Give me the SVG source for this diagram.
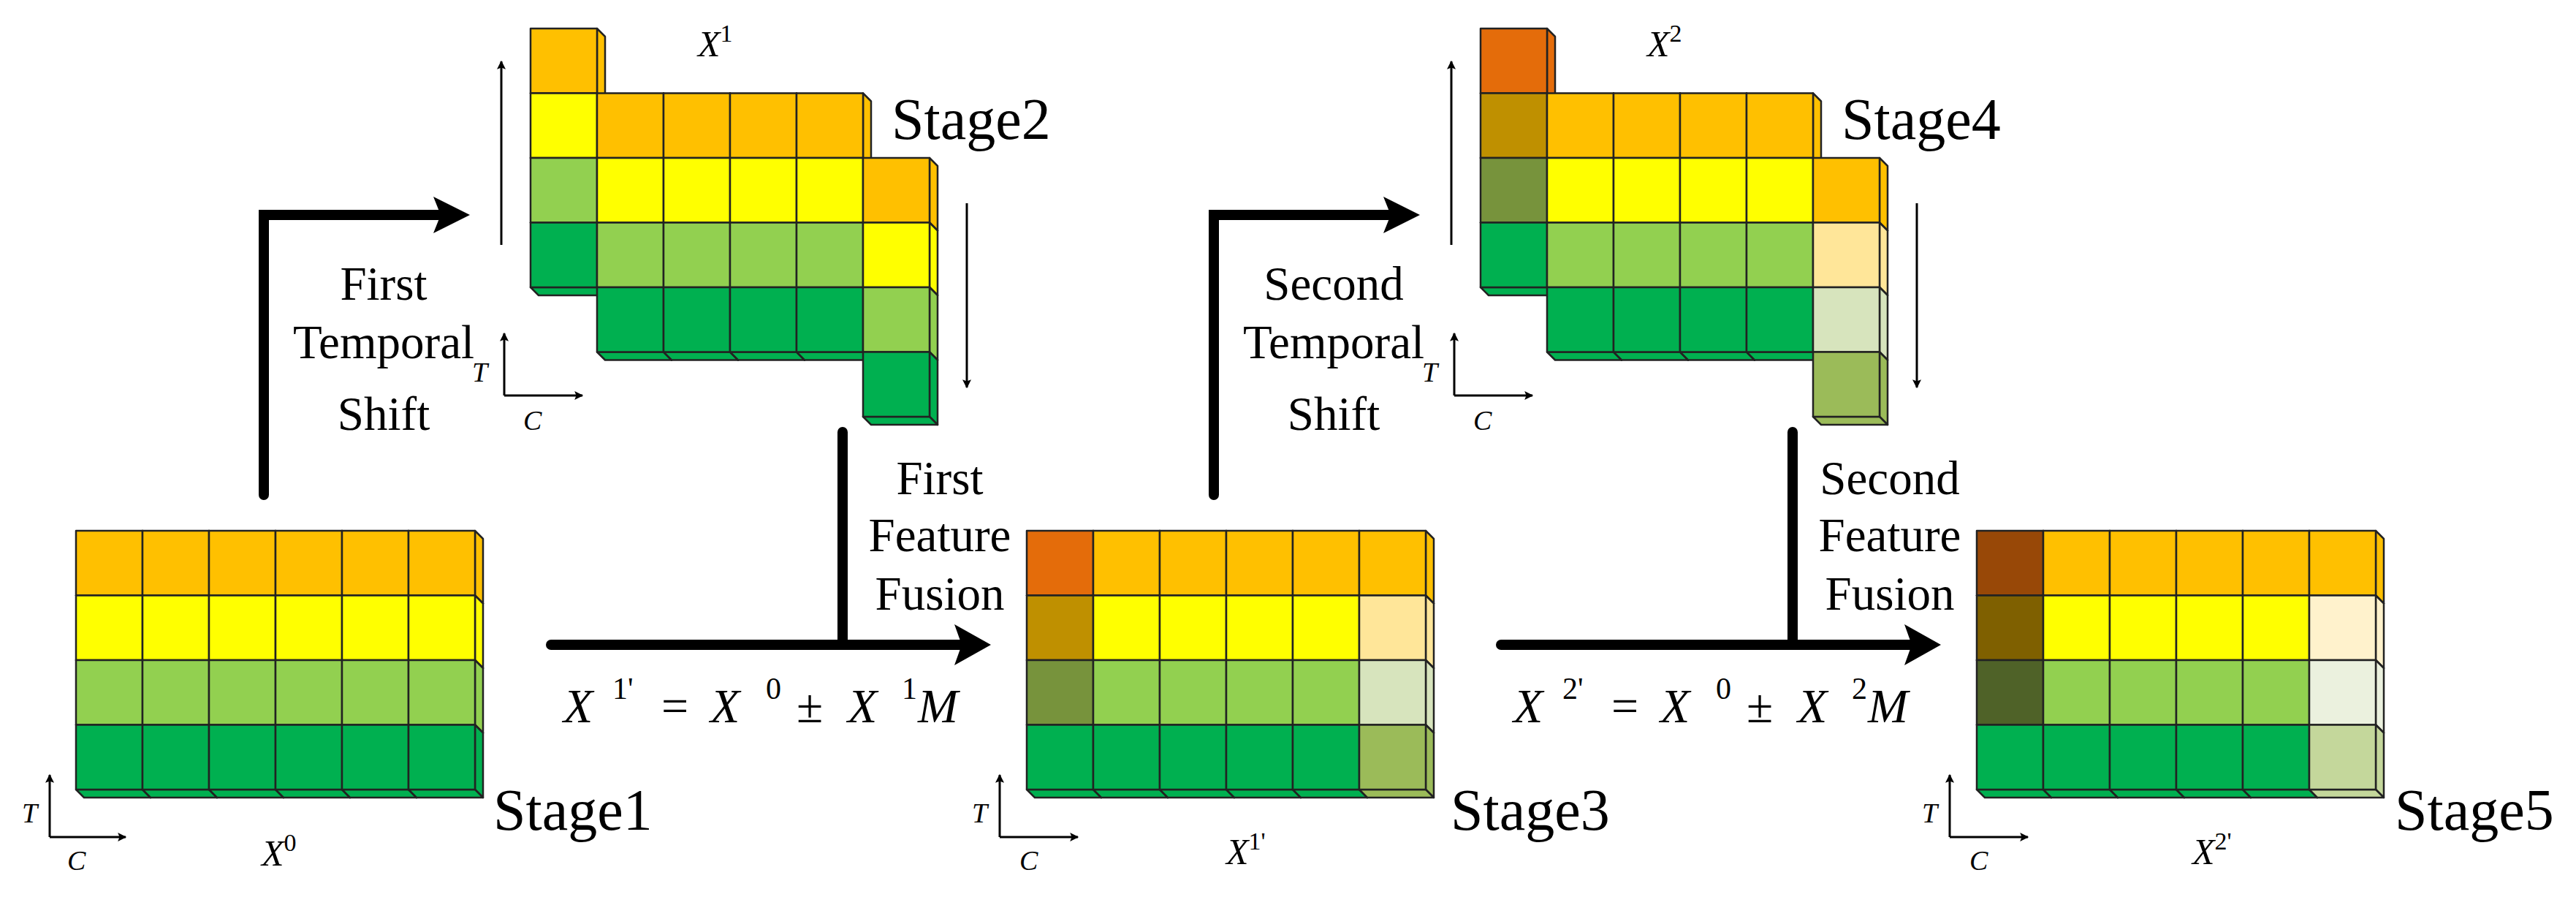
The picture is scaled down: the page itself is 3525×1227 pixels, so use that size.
<svg xmlns="http://www.w3.org/2000/svg" width="3525" height="1227" viewBox="0 0 3525 1227">
<style>
.cl polygon,.cl rect{stroke:#222;stroke-width:2.5;stroke-linejoin:round}
.thick{fill:none;stroke:#000;stroke-width:14;stroke-linecap:round;stroke-linejoin:miter}
.thin{fill:none;stroke:#000;stroke-width:3}
</style>
<defs>
<g id="cell" class="cl"><polygon points="91,0 102,11 102,99.5 91,88.5"/><polygon points="0,88.5 91,88.5 102,99.5 11,99.5"/><rect width="91" height="88.5"/></g>
<marker id="as" viewBox="0 0 10 10" refX="9" refY="5" markerWidth="16" markerHeight="12" orient="auto" markerUnits="userSpaceOnUse"><path d="M0,0 L10,5 L0,10 L2,5 Z" fill="#000"/></marker>
</defs>

<g id="stage1">
<use href="#cell" x="104" y="726" fill="#FFC000"/><use href="#cell" x="195" y="726" fill="#FFC000"/><use href="#cell" x="286" y="726" fill="#FFC000"/><use href="#cell" x="377" y="726" fill="#FFC000"/><use href="#cell" x="468" y="726" fill="#FFC000"/><use href="#cell" x="559" y="726" fill="#FFC000"/>
<use href="#cell" x="104" y="814.5" fill="#FFFF00"/><use href="#cell" x="195" y="814.5" fill="#FFFF00"/><use href="#cell" x="286" y="814.5" fill="#FFFF00"/><use href="#cell" x="377" y="814.5" fill="#FFFF00"/><use href="#cell" x="468" y="814.5" fill="#FFFF00"/><use href="#cell" x="559" y="814.5" fill="#FFFF00"/>
<use href="#cell" x="104" y="903" fill="#92D050"/><use href="#cell" x="195" y="903" fill="#92D050"/><use href="#cell" x="286" y="903" fill="#92D050"/><use href="#cell" x="377" y="903" fill="#92D050"/><use href="#cell" x="468" y="903" fill="#92D050"/><use href="#cell" x="559" y="903" fill="#92D050"/>
<use href="#cell" x="104" y="991.5" fill="#00B050"/><use href="#cell" x="195" y="991.5" fill="#00B050"/><use href="#cell" x="286" y="991.5" fill="#00B050"/><use href="#cell" x="377" y="991.5" fill="#00B050"/><use href="#cell" x="468" y="991.5" fill="#00B050"/><use href="#cell" x="559" y="991.5" fill="#00B050"/>
<path class="thin" d="M68,1145 V1060" marker-end="url(#as)"/><path class="thin" d="M68,1145 H172" marker-end="url(#as)"/>
<text style="font-family:'Liberation Serif',serif;font-style:italic;font-size:38px" x="30" y="1125">T</text><text style="font-family:'Liberation Serif',serif;font-style:italic;font-size:38px" x="92" y="1190">C</text>
<text style="font-family:'Liberation Serif',serif;font-style:italic;font-size:50px" x="358" y="1184">X<tspan style="font-style:normal;font-size:34px" dy="-20">0</tspan></text>
<text style="font-family:'Liberation Serif',serif;font-size:80px" x="675" y="1135">Stage1</text>
</g>

<g id="stage2">
<use href="#cell" x="726" y="39" fill="#FFC000"/>
<use href="#cell" x="726" y="127.5" fill="#FFFF00"/><use href="#cell" x="817" y="127.5" fill="#FFC000"/><use href="#cell" x="908" y="127.5" fill="#FFC000"/><use href="#cell" x="999" y="127.5" fill="#FFC000"/><use href="#cell" x="1090" y="127.5" fill="#FFC000"/>
<use href="#cell" x="726" y="216" fill="#92D050"/><use href="#cell" x="817" y="216" fill="#FFFF00"/><use href="#cell" x="908" y="216" fill="#FFFF00"/><use href="#cell" x="999" y="216" fill="#FFFF00"/><use href="#cell" x="1090" y="216" fill="#FFFF00"/><use href="#cell" x="1181" y="216" fill="#FFC000"/>
<use href="#cell" x="726" y="304.5" fill="#00B050"/><use href="#cell" x="817" y="304.5" fill="#92D050"/><use href="#cell" x="908" y="304.5" fill="#92D050"/><use href="#cell" x="999" y="304.5" fill="#92D050"/><use href="#cell" x="1090" y="304.5" fill="#92D050"/><use href="#cell" x="1181" y="304.5" fill="#FFFF00"/>
<use href="#cell" x="817" y="393" fill="#00B050"/><use href="#cell" x="908" y="393" fill="#00B050"/><use href="#cell" x="999" y="393" fill="#00B050"/><use href="#cell" x="1090" y="393" fill="#00B050"/><use href="#cell" x="1181" y="393" fill="#92D050"/>
<use href="#cell" x="1181" y="481.5" fill="#00B050"/>
<path class="thin" d="M686,335 V84" marker-end="url(#as)"/><path class="thin" d="M1323,278 V530" marker-end="url(#as)"/>
<path class="thin" d="M690,541 V456" marker-end="url(#as)"/><path class="thin" d="M690,541 H797" marker-end="url(#as)"/>
<text style="font-family:'Liberation Serif',serif;font-style:italic;font-size:38px" x="646" y="522">T</text><text style="font-family:'Liberation Serif',serif;font-style:italic;font-size:38px" x="716" y="588">C</text>
<text style="font-family:'Liberation Serif',serif;font-style:italic;font-size:50px" x="955" y="77">X<tspan style="font-style:normal;font-size:34px" dy="-20">1</tspan></text>
<text style="font-family:'Liberation Serif',serif;font-size:80px" x="1220" y="190">Stage2</text>
</g>

<g id="stage3">
<use href="#cell" x="1405" y="726" fill="#E46C0A"/><use href="#cell" x="1496" y="726" fill="#FFC000"/><use href="#cell" x="1587" y="726" fill="#FFC000"/><use href="#cell" x="1678" y="726" fill="#FFC000"/><use href="#cell" x="1769" y="726" fill="#FFC000"/><use href="#cell" x="1860" y="726" fill="#FFC000"/>
<use href="#cell" x="1405" y="814.5" fill="#BF9000"/><use href="#cell" x="1496" y="814.5" fill="#FFFF00"/><use href="#cell" x="1587" y="814.5" fill="#FFFF00"/><use href="#cell" x="1678" y="814.5" fill="#FFFF00"/><use href="#cell" x="1769" y="814.5" fill="#FFFF00"/><use href="#cell" x="1860" y="814.5" fill="#FFE699"/>
<use href="#cell" x="1405" y="903" fill="#77933C"/><use href="#cell" x="1496" y="903" fill="#92D050"/><use href="#cell" x="1587" y="903" fill="#92D050"/><use href="#cell" x="1678" y="903" fill="#92D050"/><use href="#cell" x="1769" y="903" fill="#92D050"/><use href="#cell" x="1860" y="903" fill="#D7E4BD"/>
<use href="#cell" x="1405" y="991.5" fill="#00B050"/><use href="#cell" x="1496" y="991.5" fill="#00B050"/><use href="#cell" x="1587" y="991.5" fill="#00B050"/><use href="#cell" x="1678" y="991.5" fill="#00B050"/><use href="#cell" x="1769" y="991.5" fill="#00B050"/><use href="#cell" x="1860" y="991.5" fill="#9BBB59"/>
<path class="thin" d="M1368,1145 V1060" marker-end="url(#as)"/><path class="thin" d="M1368,1145 H1475" marker-end="url(#as)"/>
<text style="font-family:'Liberation Serif',serif;font-style:italic;font-size:38px" x="1330" y="1125">T</text><text style="font-family:'Liberation Serif',serif;font-style:italic;font-size:38px" x="1395" y="1190">C</text>
<text style="font-family:'Liberation Serif',serif;font-style:italic;font-size:50px" x="1678" y="1182">X<tspan style="font-style:normal;font-size:34px" dy="-20">1'</tspan></text>
<text style="font-family:'Liberation Serif',serif;font-size:80px" x="1985" y="1135">Stage3</text>
</g>

<g id="stage4">
<use href="#cell" x="2026" y="39" fill="#E46C0A"/>
<use href="#cell" x="2026" y="127.5" fill="#BF9000"/><use href="#cell" x="2117" y="127.5" fill="#FFC000"/><use href="#cell" x="2208" y="127.5" fill="#FFC000"/><use href="#cell" x="2299" y="127.5" fill="#FFC000"/><use href="#cell" x="2390" y="127.5" fill="#FFC000"/>
<use href="#cell" x="2026" y="216" fill="#77933C"/><use href="#cell" x="2117" y="216" fill="#FFFF00"/><use href="#cell" x="2208" y="216" fill="#FFFF00"/><use href="#cell" x="2299" y="216" fill="#FFFF00"/><use href="#cell" x="2390" y="216" fill="#FFFF00"/><use href="#cell" x="2481" y="216" fill="#FFC000"/>
<use href="#cell" x="2026" y="304.5" fill="#00B050"/><use href="#cell" x="2117" y="304.5" fill="#92D050"/><use href="#cell" x="2208" y="304.5" fill="#92D050"/><use href="#cell" x="2299" y="304.5" fill="#92D050"/><use href="#cell" x="2390" y="304.5" fill="#92D050"/><use href="#cell" x="2481" y="304.5" fill="#FFE699"/>
<use href="#cell" x="2117" y="393" fill="#00B050"/><use href="#cell" x="2208" y="393" fill="#00B050"/><use href="#cell" x="2299" y="393" fill="#00B050"/><use href="#cell" x="2390" y="393" fill="#00B050"/><use href="#cell" x="2481" y="393" fill="#D7E4BD"/>
<use href="#cell" x="2481" y="481.5" fill="#9BBB59"/>
<path class="thin" d="M1986,335 V84" marker-end="url(#as)"/><path class="thin" d="M2623,278 V530" marker-end="url(#as)"/>
<path class="thin" d="M1990,541 V456" marker-end="url(#as)"/><path class="thin" d="M1990,541 H2097" marker-end="url(#as)"/>
<text style="font-family:'Liberation Serif',serif;font-style:italic;font-size:38px" x="1946" y="522">T</text><text style="font-family:'Liberation Serif',serif;font-style:italic;font-size:38px" x="2016" y="588">C</text>
<text style="font-family:'Liberation Serif',serif;font-style:italic;font-size:50px" x="2254" y="77">X<tspan style="font-style:normal;font-size:34px" dy="-20">2</tspan></text>
<text style="font-family:'Liberation Serif',serif;font-size:80px" x="2520" y="190">Stage4</text>
</g>

<g id="stage5">
<use href="#cell" x="2705" y="726" fill="#984807"/><use href="#cell" x="2796" y="726" fill="#FFC000"/><use href="#cell" x="2887" y="726" fill="#FFC000"/><use href="#cell" x="2978" y="726" fill="#FFC000"/><use href="#cell" x="3069" y="726" fill="#FFC000"/><use href="#cell" x="3160" y="726" fill="#FFC000"/>
<use href="#cell" x="2705" y="814.5" fill="#7F6000"/><use href="#cell" x="2796" y="814.5" fill="#FFFF00"/><use href="#cell" x="2887" y="814.5" fill="#FFFF00"/><use href="#cell" x="2978" y="814.5" fill="#FFFF00"/><use href="#cell" x="3069" y="814.5" fill="#FFFF00"/><use href="#cell" x="3160" y="814.5" fill="#FFF2CC"/>
<use href="#cell" x="2705" y="903" fill="#4F6228"/><use href="#cell" x="2796" y="903" fill="#92D050"/><use href="#cell" x="2887" y="903" fill="#92D050"/><use href="#cell" x="2978" y="903" fill="#92D050"/><use href="#cell" x="3069" y="903" fill="#92D050"/><use href="#cell" x="3160" y="903" fill="#EBF1DE"/>
<use href="#cell" x="2705" y="991.5" fill="#00B050"/><use href="#cell" x="2796" y="991.5" fill="#00B050"/><use href="#cell" x="2887" y="991.5" fill="#00B050"/><use href="#cell" x="2978" y="991.5" fill="#00B050"/><use href="#cell" x="3069" y="991.5" fill="#00B050"/><use href="#cell" x="3160" y="991.5" fill="#C4D79B"/>
<path class="thin" d="M2668,1145 V1060" marker-end="url(#as)"/><path class="thin" d="M2668,1145 H2775" marker-end="url(#as)"/>
<text style="font-family:'Liberation Serif',serif;font-style:italic;font-size:38px" x="2630" y="1125">T</text><text style="font-family:'Liberation Serif',serif;font-style:italic;font-size:38px" x="2695" y="1190">C</text>
<text style="font-family:'Liberation Serif',serif;font-style:italic;font-size:50px" x="3000" y="1182">X<tspan style="font-style:normal;font-size:34px" dy="-20">2'</tspan></text>
<text style="font-family:'Liberation Serif',serif;font-size:80px" x="3277" y="1135">Stage5</text>
</g>

<g id="connectors">
<path class="thick" d="M361,677 V294 H600"/><polygon points="593,269 643,294 593,319 603,294"/>
<path class="thick" d="M754,882 H1318"/><path class="thick" d="M1153,591 V882"/><polygon points="1306,854 1356,882 1306,910 1316,882"/>
<path class="thick" d="M1661,677 V294 H1900"/><polygon points="1893,269 1943,294 1893,319 1903,294"/>
<path class="thick" d="M2054,882 H2618"/><path class="thick" d="M2453,591 V882"/><polygon points="2606,854 2656,882 2606,910 2616,882"/>
</g>

<g id="labels">
<text style="font-family:'Liberation Serif',serif;font-size:65px;text-anchor:middle" x="525" y="410">First</text><text style="font-family:'Liberation Serif',serif;font-size:65px;text-anchor:middle" x="525" y="490">Temporal</text><text style="font-family:'Liberation Serif',serif;font-size:65px;text-anchor:middle" x="525" y="588">Shift</text>
<text style="font-family:'Liberation Serif',serif;font-size:65px;text-anchor:middle" x="1286" y="676">First</text><text style="font-family:'Liberation Serif',serif;font-size:65px;text-anchor:middle" x="1286" y="754">Feature</text><text style="font-family:'Liberation Serif',serif;font-size:65px;text-anchor:middle" x="1286" y="834">Fusion</text>
<text style="font-family:'Liberation Serif',serif;font-size:65px;text-anchor:middle" x="1825" y="410">Second</text><text style="font-family:'Liberation Serif',serif;font-size:65px;text-anchor:middle" x="1825" y="490">Temporal</text><text style="font-family:'Liberation Serif',serif;font-size:65px;text-anchor:middle" x="1825" y="588">Shift</text>
<text style="font-family:'Liberation Serif',serif;font-size:65px;text-anchor:middle" x="2586" y="676">Second</text><text style="font-family:'Liberation Serif',serif;font-size:65px;text-anchor:middle" x="2586" y="754">Feature</text><text style="font-family:'Liberation Serif',serif;font-size:65px;text-anchor:middle" x="2586" y="834">Fusion</text>
<text style="font-family:'Liberation Serif',serif;font-size:66px" y="988"><tspan style="font-style:italic" x="771">X</tspan><tspan x="838" y="956" style="font-size:42px">1'</tspan><tspan x="905" y="988">=</tspan><tspan style="font-style:italic" x="972">X</tspan><tspan x="1048" y="956" style="font-size:42px">0</tspan><tspan x="1090" y="988">±</tspan><tspan style="font-style:italic" x="1160">X</tspan><tspan x="1234" y="956" style="font-size:42px">1</tspan><tspan style="font-style:italic" x="1256" y="988">M</tspan></text>
<text style="font-family:'Liberation Serif',serif;font-size:66px" y="988"><tspan style="font-style:italic" x="2071">X</tspan><tspan x="2138" y="956" style="font-size:42px">2'</tspan><tspan x="2205" y="988">=</tspan><tspan style="font-style:italic" x="2272">X</tspan><tspan x="2348" y="956" style="font-size:42px">0</tspan><tspan x="2390" y="988">±</tspan><tspan style="font-style:italic" x="2460">X</tspan><tspan x="2534" y="956" style="font-size:42px">2</tspan><tspan style="font-style:italic" x="2556" y="988">M</tspan></text>
</g>
</svg>
